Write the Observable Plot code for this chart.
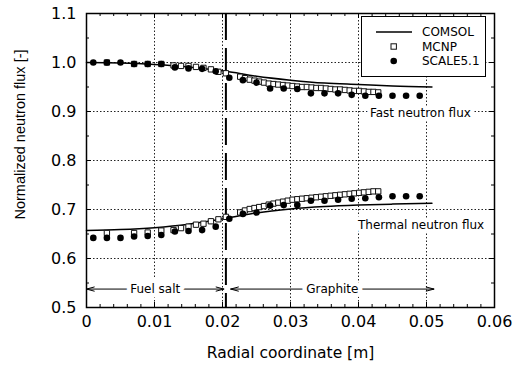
<!DOCTYPE html>
<html>
<head>
<meta charset="utf-8">
<script src="https://cdn.jsdelivr.net/npm/d3@7"></script>
<script src="https://cdn.jsdelivr.net/npm/@observablehq/plot@0.6"></script>
<style>
  html, body { margin: 0; padding: 0; background: white; }
</style>
</head>
<body>
<div id="chart"></div>
<script>
// ---- Axis ticks ----
const xMajor = [0, 0.01, 0.02, 0.03, 0.04, 0.05, 0.06];
const xTickLabels = ["0", "0.01", "0.02", "0.03", "0.04", "0.05", "0.06"];
const yMajor = [0.5, 0.6, 0.7, 0.8, 0.9, 1.0, 1.1];
const yTickLabels = ["0.5", "0.6", "0.7", "0.8", "0.9", "1.0", "1.1"];
const xMinor = [0.002, 0.004, 0.006, 0.008, 0.012, 0.014, 0.016, 0.018, 0.022, 0.024, 0.026, 0.028,
                0.032, 0.034, 0.036, 0.038, 0.042, 0.044, 0.046, 0.048, 0.052, 0.054, 0.056, 0.058];
const yMinor = [0.55, 0.65, 0.75, 0.85, 0.95, 1.05];
const xGrid = [0.01, 0.02, 0.03, 0.04, 0.05];
const yGrid = [0.6, 0.7, 0.8, 0.9, 1.0];

// ---- Fuel salt / graphite interface ----
const interfaceX = [0.0205];

// ---- COMSOL (solid line) ----
const comsolX       = [0, 0.005, 0.01, 0.015, 0.0205, 0.025, 0.03, 0.035, 0.04, 0.045, 0.0508];
const comsolFast    = [1.000, 0.999, 0.996, 0.991, 0.982, 0.972, 0.964, 0.958, 0.955, 0.952, 0.950];
const comsolThermal = [0.657, 0.659, 0.663, 0.670, 0.682, 0.693, 0.701, 0.706, 0.709, 0.711, 0.713];

// ---- MCNP (open squares) ----
const mcnpX = [0.003, 0.007, 0.009, 0.011, 0.0128, 0.0139, 0.0150, 0.0161, 0.0172, 0.0183, 0.0194, 0.0205,
               0.0226, 0.0233, 0.0240, 0.0247, 0.0254, 0.0261, 0.0268, 0.0275, 0.0282, 0.0289,
               0.0296, 0.0303, 0.0310, 0.0317, 0.0324, 0.0331, 0.0338, 0.0345, 0.0352, 0.0359,
               0.0366, 0.0373, 0.0380, 0.0387, 0.0394, 0.0401, 0.0408, 0.0415, 0.0422, 0.0429];
const mcnpFast = [1.000, 0.997, 0.997, 0.997, 0.994, 0.993, 0.993, 0.991, 0.989, 0.986, 0.981, 0.978,
                  0.971, 0.968, 0.965, 0.963, 0.961, 0.959, 0.957, 0.956, 0.955, 0.954,
                  0.953, 0.952, 0.951, 0.950, 0.950, 0.949, 0.948, 0.948, 0.947, 0.946,
                  0.945, 0.945, 0.944, 0.943, 0.942, 0.942, 0.941, 0.940, 0.940, 0.939];
const mcnpThermal = [0.652, 0.652, 0.653, 0.657, 0.658, 0.662, 0.665, 0.669, 0.671, 0.676, 0.680, 0.685,
                     0.694, 0.698, 0.701, 0.703, 0.705, 0.707, 0.710, 0.712, 0.714, 0.716,
                     0.718, 0.720, 0.721, 0.722, 0.723, 0.724, 0.725, 0.726, 0.727, 0.728,
                     0.729, 0.730, 0.731, 0.732, 0.733, 0.734, 0.735, 0.736, 0.737, 0.737];

// ---- SCALE5.1 (filled circles) ----
const scaleX = [0.001, 0.003, 0.005, 0.007, 0.009, 0.011, 0.013, 0.015, 0.017, 0.019, 0.021, 0.023, 0.025,
                0.027, 0.029, 0.031, 0.033, 0.035, 0.037, 0.039, 0.041, 0.043, 0.045, 0.047, 0.049];
const scaleFast = [1.000, 1.000, 1.000, 0.997, 0.997, 0.997, 0.990, 0.988, 0.987, 0.982, 0.969, 0.964, 0.959,
                   0.947, 0.947, 0.946, 0.937, 0.937, 0.937, 0.934, 0.932, 0.932, 0.932, 0.932, 0.932];
const scaleThermal = [0.642, 0.642, 0.642, 0.645, 0.646, 0.648, 0.655, 0.656, 0.658, 0.665, 0.681, 0.691, 0.694,
                      0.708, 0.709, 0.709, 0.718, 0.718, 0.720, 0.722, 0.723, 0.725, 0.727, 0.727, 0.727];

// ---- Annotations ----
const fluxLabels = ["Fast neutron flux", "Thermal neutron flux"];
const fluxLabelX = [0.0491, 0.0492];
const fluxLabelY = [0.896, 0.669];

const regionLabels = ["Fuel salt", "Graphite"];
const regionStart  = [0, 0.0212];
const regionEnd    = [0.0202, 0.0511];
const regionY      = 0.5376;

const legendLabels = ["COMSOL", "MCNP", "SCALE5.1"];
const xAxisLabel = "Radial coordinate [m]";
const yAxisLabel = "Normalized neutron flux [-]";

// ---- Build tables ----
const comsol = comsolX.map((x, i) => ({x, fast: comsolFast[i], thermal: comsolThermal[i]}));
const mcnp = mcnpX.map((x, i) => ({x, fast: mcnpFast[i], thermal: mcnpThermal[i]}));
const scale = scaleX.map((x, i) => ({x, fast: scaleFast[i], thermal: scaleThermal[i]}));
const fluxAnn = fluxLabels.map((t, i) => ({t, x: fluxLabelX[i], y: fluxLabelY[i]}));
const regions = regionLabels.map((t, i) => ({t, x1: regionStart[i], x2: regionEnd[i], mid: (regionStart[i] + regionEnd[i]) / 2, y: regionY}));

const W = 517, H = 374, mL = 86, mR = 23, mT = 13, mB = 67;
const frameW = W - mL - mR, frameH = H - mT - mB;
const majorLen = 5, minorLen = 3;
const textFont = "DejaVu Sans";

const chart = Plot.plot({
  width: W, height: H,
  marginLeft: mL, marginRight: mR, marginTop: mT, marginBottom: mB,
  style: {fontFamily: textFont, fontSize: "16px", background: "white", color: "black"},
  x: {domain: [0, 0.06], ticks: xMajor, tickSize: 0, tickPadding: 8,
      tickFormat: d => xTickLabels[xMajor.indexOf(d)], label: null},
  y: {domain: [0.5, 1.1], ticks: yMajor, tickSize: 0, tickPadding: 10,
      tickFormat: d => yTickLabels[yMajor.indexOf(d)], label: null},
  marks: [
    // dotted grid
    Plot.ruleX(xGrid, {stroke: "#222", strokeWidth: 1, strokeDasharray: "1.5,2"}),
    Plot.ruleY(yGrid, {stroke: "#222", strokeWidth: 1, strokeDasharray: "1.5,2"}),
    // interface
    Plot.ruleX(interfaceX, {stroke: "black", strokeWidth: 2, strokeDasharray: "27,8"}),
    // annotations on the grid
    Plot.text(fluxAnn, {x: "x", y: "y", text: "t", fontFamily: textFont, fontSize: 12, fill: "black",
      stroke: "white", strokeWidth: 7, paintOrder: "stroke"}),
    // region arrows
    Plot.arrow(regions, {x1: "mid", x2: "x1", y1: "y", y2: "y", stroke: "black", strokeWidth: 1, headLength: 12, headAngle: 30}),
    Plot.arrow(regions, {x1: "mid", x2: "x2", y1: "y", y2: "y", stroke: "black", strokeWidth: 1, headLength: 12, headAngle: 30}),
    Plot.text(regions, {x: "mid", y: "y", text: "t", fontFamily: textFont, fontSize: 12, fill: "black",
      stroke: "white", strokeWidth: 9, paintOrder: "stroke"}),
    // COMSOL
    Plot.line(comsol, {x: "x", y: "fast", stroke: "black", strokeWidth: 1.5, curve: "monotone-x"}),
    Plot.line(comsol, {x: "x", y: "thermal", stroke: "black", strokeWidth: 1.5, curve: "monotone-x"}),
    // MCNP
    Plot.dot(mcnp, {x: "x", y: "fast", symbol: "square", r: 3, fill: "white", stroke: "#111", strokeWidth: 1}),
    Plot.dot(mcnp, {x: "x", y: "thermal", symbol: "square", r: 3, fill: "white", stroke: "#111", strokeWidth: 1}),
    // SCALE
    Plot.dot(scale, {x: "x", y: "fast", r: 3.3, fill: "black", stroke: "none"}),
    Plot.dot(scale, {x: "x", y: "thermal", r: 3.3, fill: "black", stroke: "none"}),
    // inward ticks on all four sides
    Plot.ruleX(xMajor, {insetTop: frameH - majorLen, stroke: "black", strokeWidth: 1}),
    Plot.ruleX(xMajor, {insetBottom: frameH - majorLen, stroke: "black", strokeWidth: 1}),
    Plot.ruleX(xMinor, {insetTop: frameH - minorLen, stroke: "black", strokeWidth: 1}),
    Plot.ruleX(xMinor, {insetBottom: frameH - minorLen, stroke: "black", strokeWidth: 1}),
    Plot.ruleY(yMajor, {insetRight: frameW - majorLen, stroke: "black", strokeWidth: 1}),
    Plot.ruleY(yMajor, {insetLeft: frameW - majorLen, stroke: "black", strokeWidth: 1}),
    Plot.ruleY(yMinor, {insetRight: frameW - minorLen, stroke: "black", strokeWidth: 1}),
    Plot.ruleY(yMinor, {insetLeft: frameW - minorLen, stroke: "black", strokeWidth: 1}),
    Plot.frame({stroke: "black", strokeWidth: 1.5}),
    // axis titles
    Plot.text([xAxisLabel], {frameAnchor: "bottom", dy: 46, lineAnchor: "middle", textAnchor: "middle", text: d => d,
      fontFamily: textFont, fontSize: 15.5, fill: "black"}),
    Plot.text([yAxisLabel], {frameAnchor: "left", rotate: -90, dx: -66, dy: -26, lineAnchor: "middle", textAnchor: "middle",
      text: d => d, fontFamily: "Liberation Sans", fontSize: 14.5, fill: "black"})
  ]
});

document.getElementById("chart").appendChild(chart);

// ---- Legend (drawn into the same SVG) ----
const svg = d3.select(chart);
const lg = svg.append("g");
lg.append("rect").attr("x", 361.5).attr("y", 16.5).attr("width", 124).attr("height", 60)
  .attr("fill", "white").attr("stroke", "black").attr("stroke-width", 1);
const rowY = [32, 46.5, 61];
lg.append("line").attr("x1", 376).attr("x2", 412).attr("y1", rowY[0]).attr("y2", rowY[0])
  .attr("stroke", "black").attr("stroke-width", 1.5);
lg.append("rect").attr("x", 391).attr("y", rowY[1] - 2.7).attr("width", 5.4).attr("height", 5.4)
  .attr("fill", "white").attr("stroke", "#111").attr("stroke-width", 1);
lg.append("circle").attr("cx", 393.7).attr("cy", rowY[2]).attr("r", 3.3).attr("fill", "black");
legendLabels.forEach((t, i) => {
  lg.append("text").attr("x", 422).attr("y", rowY[i]).attr("dy", "0.36em")
    .attr("text-anchor", "start")
    .attr("font-family", textFont).attr("font-size", 12).attr("fill", "black").text(t);
});
</script>
</body>
</html>
